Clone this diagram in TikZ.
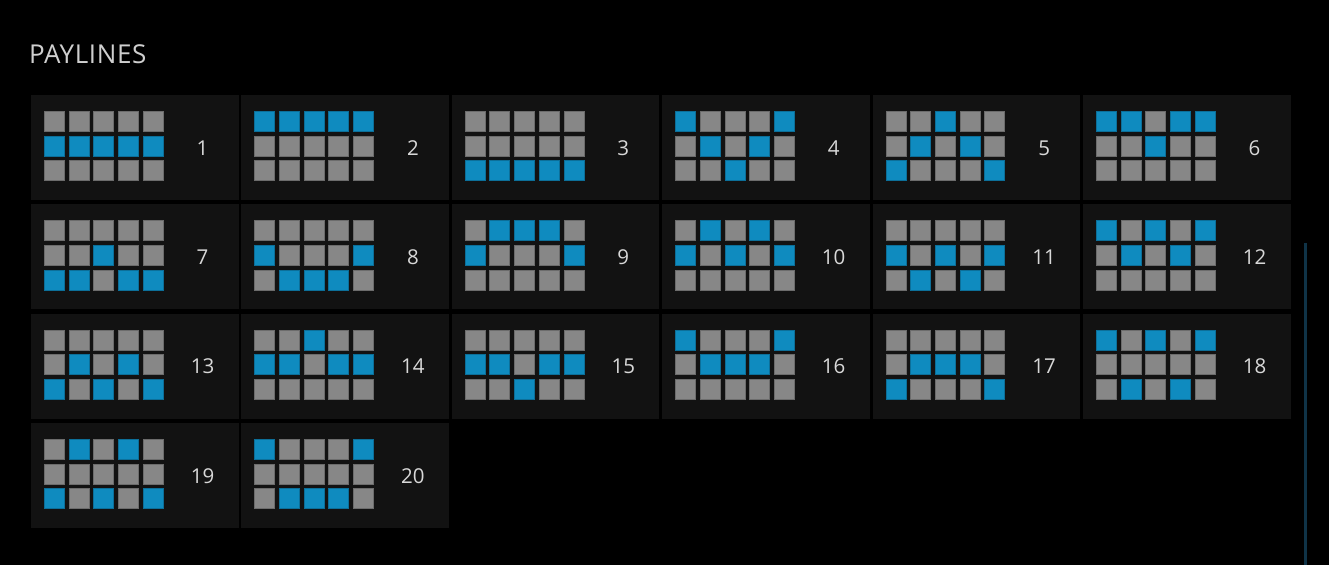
\documentclass[tikz,border=0pt]{standalone}
\usepackage{fontspec}
\setmainfont{Open Sans}
\usepackage{tikz}
\usetikzlibrary{positioning}

\definecolor{pagebg}{HTML}{000000}
\definecolor{cellbg}{HTML}{121212}
\definecolor{lineblue}{HTML}{0F8BBF}
\definecolor{slotgray}{HTML}{878787}
\definecolor{labelgray}{HTML}{D8D8D8}
\definecolor{titlegray}{HTML}{CFCFCF}
\definecolor{scrollblue}{HTML}{0F3347}

\begin{document}
\begin{tikzpicture}[x=1pt, y=-1pt,
  cell/.style={fill=cellbg, minimum width=207.5pt, minimum height=105pt,
               inner sep=0pt, outer sep=0pt, anchor=north west},
  sqr/.style={minimum size=20pt, inner sep=0pt, outer sep=0pt,
              line width=0.8pt},
  num/.style={text=labelgray, font=\fontsize{20.5}{24}\selectfont,
              inner sep=0pt},
  title/.style={text=titlegray,
                font=\fontsize{26}{30}\selectfont\addfontfeature{LetterSpace=2.5},
                anchor=base west, inner sep=0pt},
]

% --- Page background (fixes the bounding box) ---
\fill[pagebg] (0,0) rectangle (1329,565);

% --- Heading ---
\node[title] (heading) at (28.8,63.3) {PAYLINES};

% --- Payline cards: number / row of the lit square in each reel ---
\foreach \n/\pat in {
   1/{1,1,1,1,1},  2/{0,0,0,0,0},  3/{2,2,2,2,2},  4/{0,1,2,1,0},
   5/{2,1,0,1,2},  6/{0,0,1,0,0},  7/{2,2,1,2,2},  8/{1,2,2,2,1},
   9/{1,0,0,0,1}, 10/{1,0,1,0,1}, 11/{1,2,1,2,1}, 12/{0,1,0,1,0},
  13/{2,1,2,1,2}, 14/{1,1,0,1,1}, 15/{1,1,2,1,1}, 16/{0,1,1,1,0},
  17/{2,1,1,1,2}, 18/{0,2,0,2,0}, 19/{2,0,2,0,2}, 20/{0,2,2,2,0}} {
  \pgfmathtruncatemacro\col{mod(\n-1,6)}
  \pgfmathtruncatemacro\row{div(\n-1,6)}
  \pgfmathsetmacro\cx{31+210.4*\col}
  \pgfmathsetmacro\cy{95+109.3*\row}
  \node[cell] (cell\n) at (\cx,\cy) {};
  \node[num] (num\n) at (\cx+171.5,\cy+53) {\n};
  \foreach \rw [count=\c from 0] in \pat {
    \foreach \r in {0,1,2} {
      \ifnum\r=\rw \def\sqcol{lineblue}\else\def\sqcol{slotgray}\fi
      \node[sqr, fill=\sqcol, draw=\sqcol!80!black] (sq\n-\c-\r)
        at (\cx+23.3+24.7*\c, \cy+26.4+24.7*\r) {};
    }
  }
}

% --- Scroll bar ---
\fill[scrollblue] (1303.5,243) rectangle (1307,565);
\end{tikzpicture}
\end{document}
